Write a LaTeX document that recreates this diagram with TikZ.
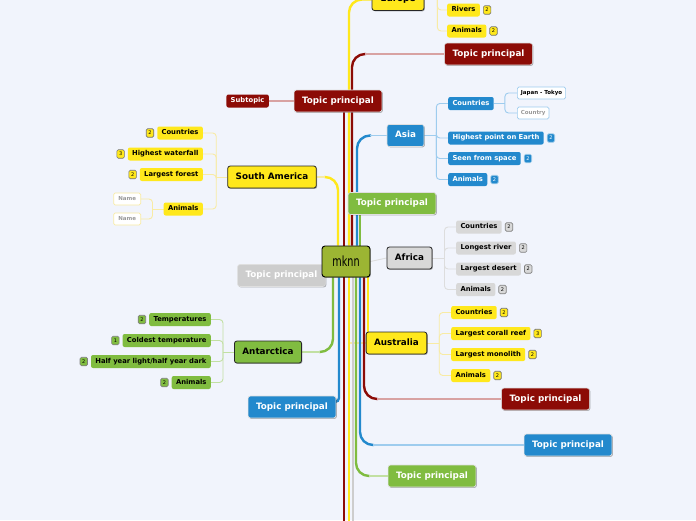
\documentclass[tikz,border=0pt]{standalone}
\usepackage{fontspec}
\usepackage{graphicx}
\setmainfont{DejaVu Sans}
\usetikzlibrary{shadows,calc}
\pgfdeclarelayer{back}
\pgfdeclarelayer{links}
\pgfsetlayers{back,links,main}
\definecolor{bgc}{HTML}{F1F4FC}
\definecolor{cyel}{HTML}{FFE81C}
\definecolor{lyel}{HTML}{F8EBA4}
\definecolor{cred}{HTML}{8C0B06}
\definecolor{lred}{HTML}{D8A2A2}
\definecolor{cblue}{HTML}{2389CD}
\definecolor{lblue}{HTML}{9ECCEE}
\definecolor{cgreen}{HTML}{80BC40}
\definecolor{lgreen}{HTML}{C2E0A2}
\definecolor{cgrey}{HTML}{CDCDCD}
\definecolor{sgrey}{HTML}{D8D8D8}
\definecolor{lgrey}{HTML}{DDDDDD}
\definecolor{colive}{HTML}{9CB533}
\tikzset{
 topic/.style={rounded corners=2.5pt, inner xsep=8pt, inner ysep=0pt, minimum height=22pt, text height=6.6pt, text depth=1.8pt, font=\fontsize{8.8}{10}\selectfont\bfseries, drop shadow={shadow xshift=0.9pt, shadow yshift=-0.9pt, opacity=0.3, fill=black}},
 tp/.style={topic, text=white, draw=white!75!gray, line width=0.6pt},
 mainb/.style={topic, draw=black!85, line width=0.8pt},
 sub/.style={rounded corners=2pt, inner xsep=4.3pt, inner ysep=0pt, minimum height=13pt, text height=5pt, text depth=1.4pt, font=\fontsize{6.8}{8}\selectfont\bfseries},
 leaf/.style={rounded corners=1.5pt, fill=white, inner xsep=3.5pt, inner ysep=0pt, minimum height=12pt, text height=4pt, text depth=1.1pt, font=\fontsize{5.5}{6}\selectfont\bfseries, line width=0.7pt},
 badge/.style={rounded corners=1.4pt, minimum width=7.5pt, minimum height=8.5pt, inner sep=0pt, font=\fontsize{5}{5.5}\selectfont, line width=0.6pt},
 yb/.style={badge, fill=cyel, draw=black!55},
 gb/.style={badge, fill=sgrey, draw=black!50},
 bb/.style={badge, fill=cblue, draw=white!60!cblue, text=white},
 nb/.style={badge, fill=cgreen, draw=black!50},
 trunk/.style={line width=2.4pt, rounded corners=13pt},
 hlink/.style={line width=1.5pt},
 link/.style={line width=0.9pt, rounded corners=3.5pt},
}
\begin{document}
\begin{tikzpicture}[x=1pt,y=-1pt]
\useasboundingbox (0,0) rectangle (696,520);
\begin{pgfonlayer}{back}
\fill[bgc] (0,0) rectangle (696,520);
\end{pgfonlayer}

% ---------- topics ----------
\node[mainb, fill=cyel, minimum width=52pt] (eur) at (398,-0.5) {Europe};
\node[sub, fill=cyel, anchor=west] (eriv) at (447,10) {Rivers};
\node[yb, anchor=west] (beriv) at ([xshift=3pt]eriv.east) {2};
\node[sub, fill=cyel, anchor=west] (eani) at (447,31) {Animals};
\node[yb, anchor=west] (beani) at ([xshift=3pt]eani.east) {2};

\node[tp, fill=cred] (redT) at (488.5,54) {Topic principal};
\node[tp, fill=cred] (redL) at (338,101) {Topic principal};
\node[sub, fill=cred, text=white, anchor=east] (subt) at (269,101) {Subtopic};

% Asia
\node[tp, fill=cblue] (asia) at (405.5,135.5) {Asia};
\node[sub, fill=cblue, text=white, anchor=west] (acou) at (448,103.5) {Countries};
\node[leaf, draw=lblue, anchor=west] (jt) at (517,93) {Japan - Tokyo};
\node[leaf, draw=lblue, text=black!40, anchor=west] (cty) at (517,113) {Country};
\node[sub, fill=cblue, text=white, anchor=west] (ahp) at (448,138) {Highest point on Earth};
\node[bb, anchor=west] (bahp) at ([xshift=3pt]ahp.east) {2};
\node[sub, fill=cblue, text=white, anchor=west] (ass) at (448,158.5) {Seen from space};
\node[bb, anchor=west] (bass) at ([xshift=3pt]ass.east) {2};
\node[sub, fill=cblue, text=white, anchor=west] (aan) at (448,179.5) {Animals};
\node[bb, anchor=west] (baan) at ([xshift=3pt]aan.east) {2};

% South America
\node[mainb, fill=cyel] (sa) at (272,177) {South America};
\node[sub, fill=cyel, anchor=east] (scou) at (203,133) {Countries};
\node[yb, anchor=east] (bscou) at ([xshift=-3pt]scou.west) {2};
\node[sub, fill=cyel, anchor=east] (swat) at (203,154) {Highest waterfall};
\node[yb, anchor=east] (bswat) at ([xshift=-3pt]swat.west) {3};
\node[sub, fill=cyel, anchor=east] (sfor) at (203,174.5) {Largest forest};
\node[yb, anchor=east] (bsfor) at ([xshift=-3pt]sfor.west) {2};
\node[sub, fill=cyel, anchor=east] (sani) at (203,209) {Animals};
\node[leaf, draw=lyel, text=black!40, minimum width=27pt, anchor=east] (nm1) at (141,199) {Name};
\node[leaf, draw=lyel, text=black!40, minimum width=27pt, anchor=east] (nm2) at (141,219) {Name};

\node[tp, fill=cgreen] (grM) at (392,203.5) {Topic principal};
\node[tp, fill=cgrey] (grL) at (281.5,275.5) {Topic principal};

% centre
\node[draw=black, line width=0.9pt, fill=colive, rounded corners=3pt, minimum width=48pt, minimum height=31pt, inner sep=0pt, drop shadow={shadow xshift=0.9pt, shadow yshift=-0.9pt, opacity=0.3, fill=black}] (c) at (346,261.5) {\fontsize{14}{16}\selectfont\scalebox{0.69}[1]{mknn}};

% Africa
\node[mainb, fill=sgrey] (afr) at (409.5,258) {Africa};
\node[sub, fill=sgrey, anchor=west] (fcou) at (456,227) {Countries};
\node[gb, anchor=west] (bfcou) at ([xshift=3pt]fcou.east) {2};
\node[sub, fill=sgrey, anchor=west] (friv) at (456,248) {Longest river};
\node[gb, anchor=west] (bfriv) at ([xshift=3pt]friv.east) {2};
\node[sub, fill=sgrey, anchor=west] (fdes) at (456,269) {Largest desert};
\node[gb, anchor=west] (bfdes) at ([xshift=3pt]fdes.east) {2};
\node[sub, fill=sgrey, anchor=west] (fani) at (456,289.5) {Animals};
\node[gb, anchor=west] (bfani) at ([xshift=3pt]fani.east) {2};

% Antarctica
\node[mainb, fill=cgreen] (ant) at (268,352) {Antarctica};
\node[sub, fill=cgreen, anchor=east] (ntem) at (211,319.5) {Temperatures};
\node[nb, anchor=east] (bntem) at ([xshift=-3pt]ntem.west) {2};
\node[sub, fill=cgreen, anchor=east] (ncol) at (211,340.5) {Coldest temperature};
\node[nb, anchor=east] (bncol) at ([xshift=-3pt]ncol.west) {1};
\node[sub, fill=cgreen, anchor=east] (nhal) at (211,361.5) {Half year light/half year dark};
\node[nb, anchor=east] (bnhal) at ([xshift=-3pt]nhal.west) {2};
\node[sub, fill=cgreen, anchor=east] (nani) at (211,382.5) {Animals};
\node[nb, anchor=east] (bnani) at ([xshift=-3pt]nani.west) {2};

% Australia
\node[mainb, fill=cyel] (aus) at (396.5,343) {Australia};
\node[sub, fill=cyel, anchor=west] (ucou) at (451,312.5) {Countries};
\node[yb, anchor=west] (bucou) at ([xshift=3pt]ucou.east) {2};
\node[sub, fill=cyel, anchor=west] (uree) at (451,333.5) {Largest corall reef};
\node[yb, anchor=west] (buree) at ([xshift=3pt]uree.east) {3};
\node[sub, fill=cyel, anchor=west] (umon) at (451,354.5) {Largest monolith};
\node[yb, anchor=west] (bumon) at ([xshift=3pt]umon.east) {2};
\node[sub, fill=cyel, anchor=west] (uani) at (451,375.5) {Animals};
\node[yb, anchor=west] (buani) at ([xshift=3pt]uani.east) {2};

\node[tp, fill=cblue] (blL) at (292,407) {Topic principal};
\node[tp, fill=cred] (redR) at (545.5,399) {Topic principal};
\node[tp, fill=cblue] (blR) at (568,445) {Topic principal};
\node[tp, fill=cgreen] (grB) at (432,476) {Topic principal};

% ---------- connectors ----------
\begin{pgfonlayer}{links}
% child brackets
\draw[link, lyel] (eur.east) -- ++(13,0) coordinate (ej);
\draw[link, lyel] (ej) |- (eriv.west);
\draw[link, lyel] (ej) |- (eani.west);
\draw[hlink, lred] (redL.west) -- (subt.east);

\draw[link, lblue] (asia.east) -- ++(12,0) coordinate (aj);
\foreach \k in {acou,ahp,ass,aan} \draw[link, lblue] (aj) |- (\k.west);
\draw[link, lblue] (acou.east) -- ++(11,0) coordinate (acj);
\foreach \k in {jt,cty} \draw[link, lblue] (acj) |- (\k.west);

\draw[link, lyel] (sa.west) -- ++(-11,0) coordinate (sj);
\foreach \k in {scou,swat,sfor,sani} \draw[link, lyel] (sj) |- (\k.east);
\draw[link, lyel] (sani.west) -- ++(-11,0) coordinate (snj);
\foreach \k in {nm1,nm2} \draw[link, lyel] (snj) |- (\k.east);

\draw[link, lgrey] (c.east) -- (afr.west);
\draw[link, lgrey] (afr.east) -- ++(12,0) coordinate (fj);
\foreach \k in {fcou,friv,fdes,fani} \draw[link, lgrey] (fj) |- (\k.west);

\draw[link, lgreen] (ant.west) -- ++(-11,0) coordinate (nj);
\foreach \k in {ntem,ncol,nhal,nani} \draw[link, lgreen] (nj) |- (\k.east);

\draw[link, lyel] (aus.east) -- ++(12,0) coordinate (uj);
\foreach \k in {ucou,uree,umon,uani} \draw[link, lyel] (uj) |- (\k.west);

% trunk anchor points
\coordinate (tSA) at ([xshift=-8pt]c.north);
\coordinate (tRL) at ([xshift=-2pt]c.north);
\coordinate (tEU) at ([xshift=3pt]c.north);
\coordinate (tRT) at ([xshift=6pt]c.north);
\coordinate (tAS) at ([xshift=11pt]c.north);
\coordinate (tGM) at ([xshift=14pt]c.north);
\coordinate (bAN) at ([xshift=-13pt]c.south);
\coordinate (bBL) at ([xshift=-7pt]c.south);
\coordinate (bR)  at ([xshift=-2pt]c.south);
\coordinate (bY)  at ([xshift=3pt]c.south);
\coordinate (bG)  at ([xshift=7pt]c.south);
\coordinate (bGB) at ([xshift=10pt]c.south);
\coordinate (bBR) at ([xshift=14pt]c.south);
\coordinate (bRR) at ([xshift=18pt]c.south);
\coordinate (bAU) at ([xshift=22pt]c.south);
\coordinate (bot) at (0,530);

\draw[hlink, lyel] (bY |- aus.west) -- (aus.west);

% upward trunks
\draw[trunk, cyel] (tSA) |- ($(tSA |- sa.east)+(-14,0)$);
\draw[hlink, lyel] ($(tSA |- sa.east)+(-13,0)$) -- (sa.east);
\draw[trunk, cred] (tRL) -- (tRL |- redL.south);
\draw[trunk, cyel] (tEU) |- (eur.west);
\draw[trunk, cred] (tRT) |- ($(tRT |- redT.west)+(14,0)$);
\draw[hlink, lred] ($(tRT |- redT.west)+(13,0)$) -- (redT.west);
\draw[trunk, cblue] (tAS) |- ($(tAS |- asia.west)+(14,0)$);
\draw[hlink, lblue] ($(tAS |- asia.west)+(13,0)$) -- (asia.west);
\draw[trunk, cgreen] (tGM) -- (tGM |- grM.south);

% downward trunks
\draw[trunk, cgreen] (bAN) |- ($(bAN |- ant.east)+(-14,0)$);
\draw[hlink, lgreen] ($(bAN |- ant.east)+(-13,0)$) -- (ant.east);
\draw[trunk, cblue, rounded corners=4pt] (bBL) |- ([yshift=5pt]blL.east);
\draw[trunk, cred] (bR) -- (bR |- bot);
\draw[trunk, cyel] (bY) -- (bY |- bot);
\draw[trunk, cgrey] (bG) -- (bG |- bot);
\draw[trunk, cgreen] (bGB) |- ($(bGB |- grB.west)+(14,0)$);
\draw[hlink, lgreen] ($(bGB |- grB.west)+(13,0)$) -- (grB.west);
\draw[trunk, cblue] (bBR) |- ($(bBR |- blR.west)+(14,0)$);
\draw[hlink, lblue] ($(bBR |- blR.west)+(13,0)$) -- (blR.west);
\draw[trunk, cred] (bRR) |- ($(bRR |- redR.west)+(14,0)$);
\draw[hlink, lred] ($(bRR |- redR.west)+(13,0)$) -- (redR.west);
\draw[trunk, cyel] (bAU) -- (bAU |- aus.north);
\end{pgfonlayer}
\end{tikzpicture}
\end{document}
